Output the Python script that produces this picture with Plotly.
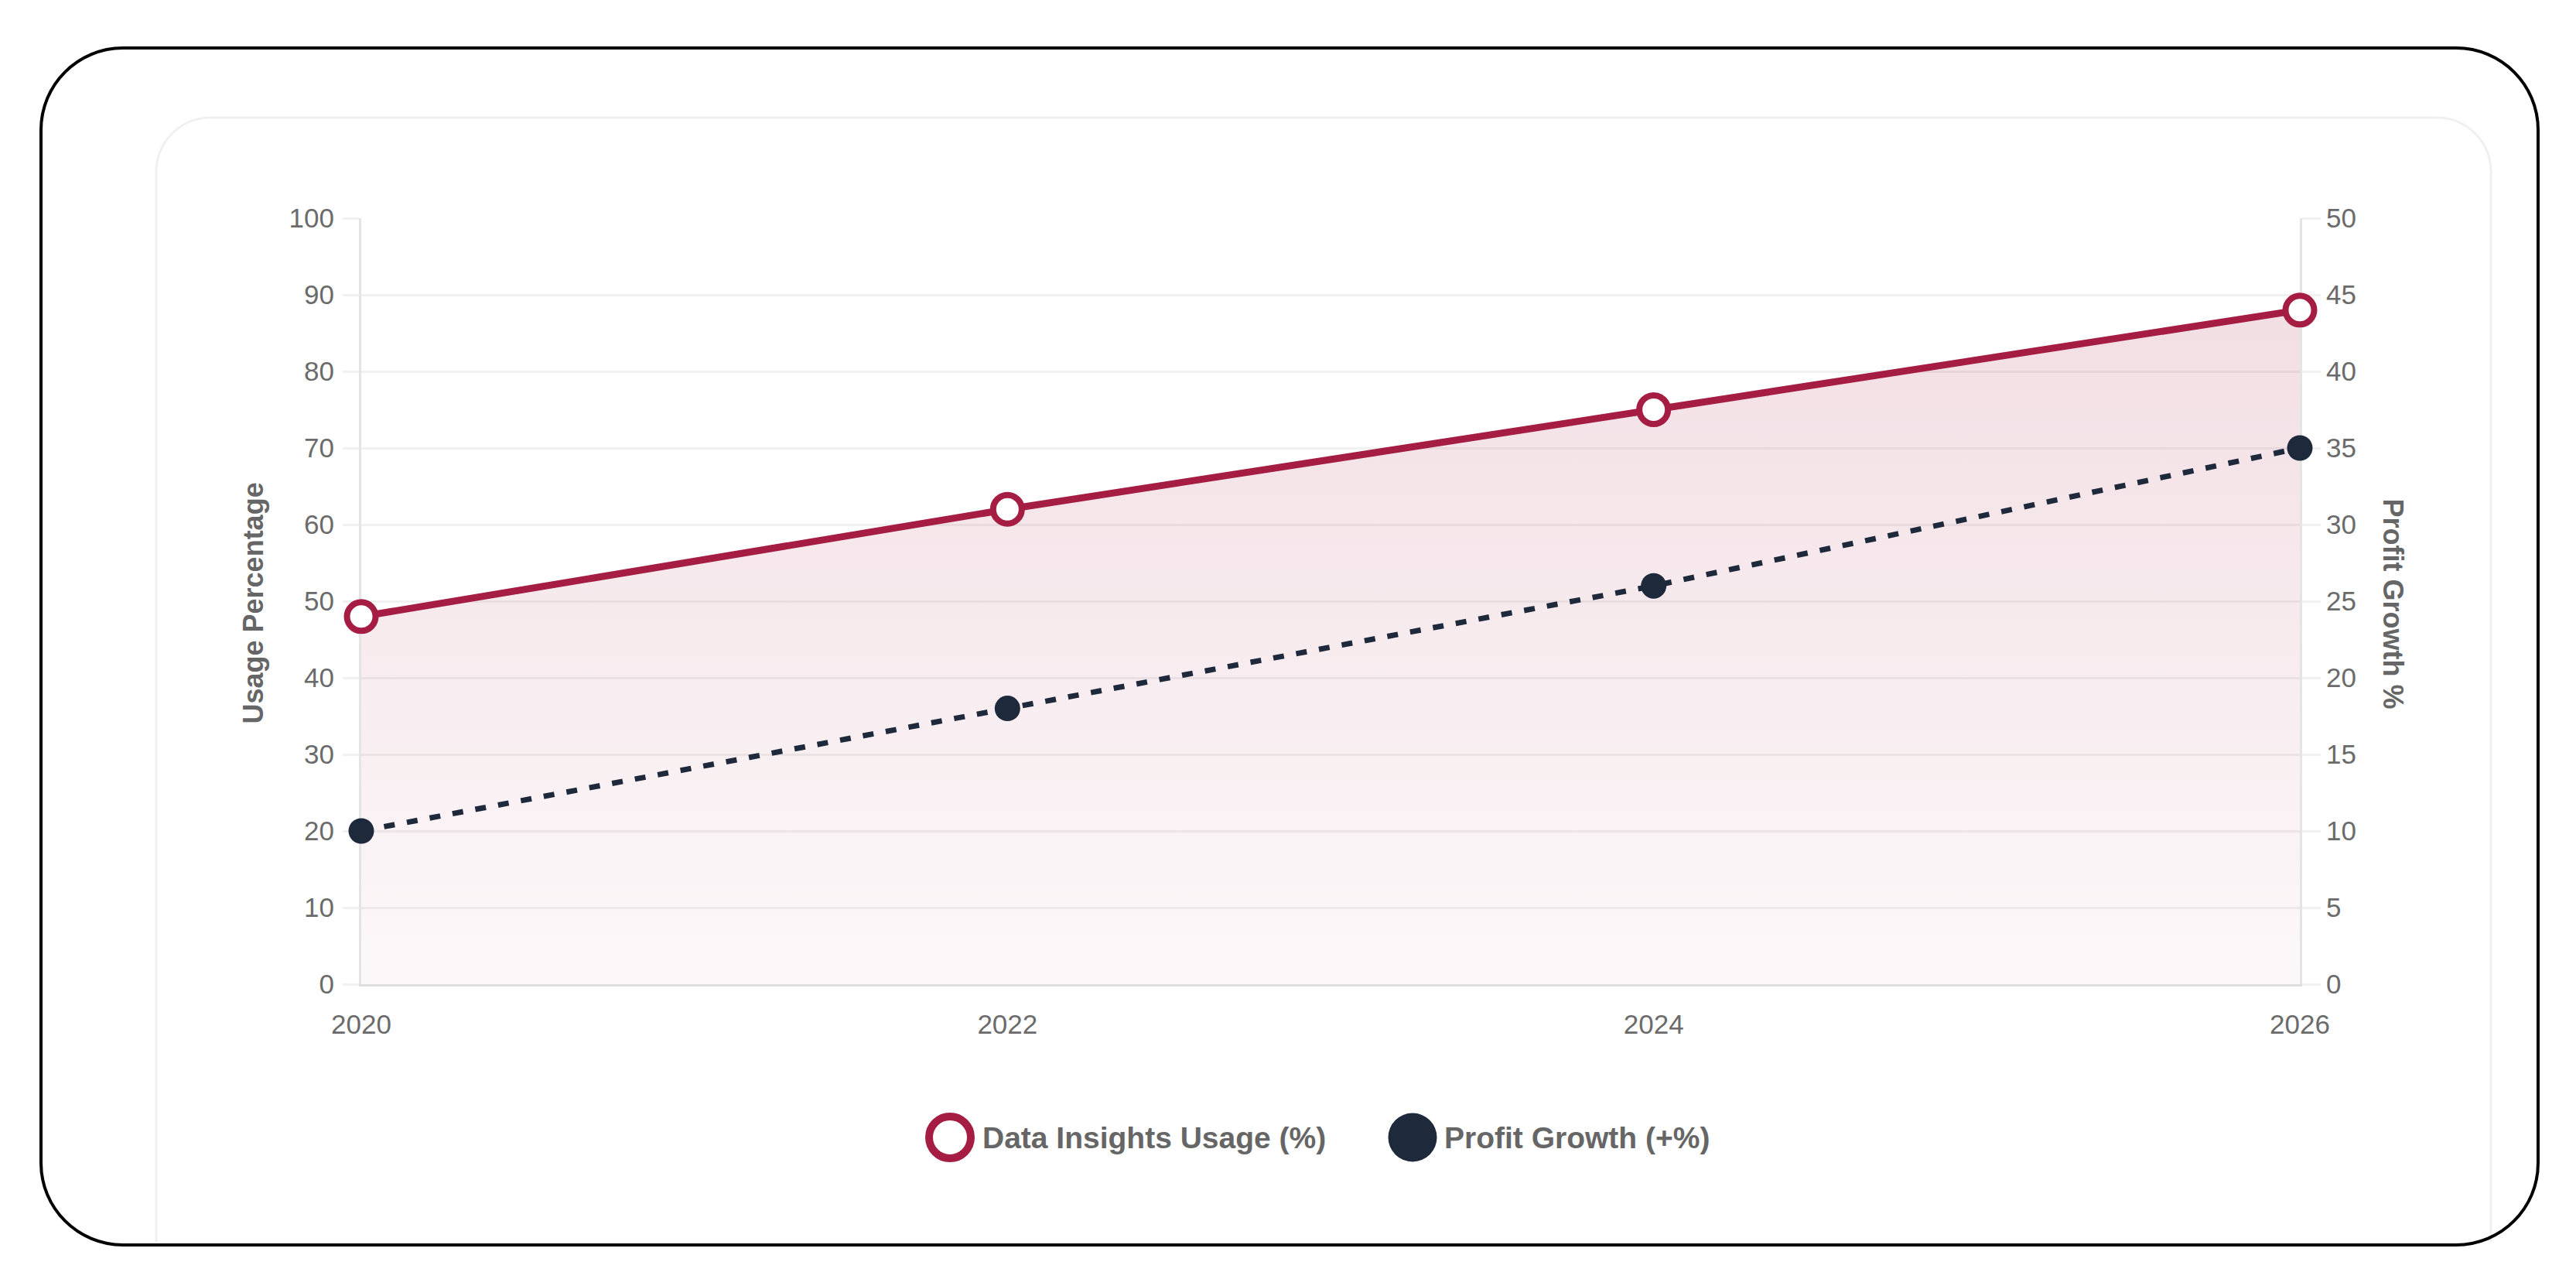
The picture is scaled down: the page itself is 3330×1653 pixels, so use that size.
import plotly.graph_objects as go

# chart data
years = [2020, 2022, 2024, 2026]
year_labels = ["2020", "2022", "2024", "2026"]
usage = [48, 62, 75, 88]
profit = [10, 18, 26, 35]
usage_name = "Data Insights Usage (%)"
profit_name = "Profit Growth (+%)"

W, H = 3330, 1653
RED = "#A51D43"
DARK = "#1E293B"
GREY = "#6b6b6b"
FONT = "Liberation Sans, Arial, sans-serif"


def px(x):
    return x / W


def py(y):
    return 1 - y / H


def rounded_path(x0, y0, x1, y1, r, close=True):
    # rounded rectangle in pixel coords -> svg path in paper coords
    k = 0.5523 * r
    top = [
        f"L {px(x0)},{py(y0 + r)}",
        f"C {px(x0)},{py(y0 + r - k)} {px(x0 + r - k)},{py(y0)} {px(x0 + r)},{py(y0)}",
        f"L {px(x1 - r)},{py(y0)}",
        f"C {px(x1 - r + k)},{py(y0)} {px(x1)},{py(y0 + r - k)} {px(x1)},{py(y0 + r)}",
    ]
    if not close:
        return " ".join([f"M {px(x0)},{py(y1)}"] + top + [f"L {px(x1)},{py(y1)}"])
    bottom = [
        f"L {px(x1)},{py(y1 - r)}",
        f"C {px(x1)},{py(y1 - r + k)} {px(x1 - r + k)},{py(y1)} {px(x1 - r)},{py(y1)}",
        f"L {px(x0 + r)},{py(y1)}",
        f"C {px(x0 + r - k)},{py(y1)} {px(x0)},{py(y1 - r + k)} {px(x0)},{py(y1 - r)}",
        "Z",
    ]
    return " ".join([f"M {px(x0)},{py(y1 - r)}"] + top + bottom)


fig = go.Figure()

fig.add_trace(go.Scatter(
    x=years, y=usage, name=usage_name,
    mode="lines+markers",
    line=dict(color=RED, width=9),
    marker=dict(size=37, color="white", line=dict(color=RED, width=8)),
    fill="tozeroy",
    fillgradient=dict(
        type="vertical", start=0, stop=100,
        colorscale=[[0, "rgba(165,29,67,0.03)"], [1, "rgba(165,29,67,0.16)"]],
    ),
    cliponaxis=False,
))

fig.add_trace(go.Scatter(
    x=years, y=profit, name=profit_name, yaxis="y2",
    mode="lines+markers",
    line=dict(color=DARK, width=7, dash="14px,16px"),
    marker=dict(size=33, color=DARK),
    cliponaxis=False,
))

# card + outer frame
shapes = [
    dict(type="path", xref="paper", yref="paper", layer="below",
         path=rounded_path(202, 152, 3220, 1605, 70, close=False),
         line=dict(color="#f0f0f0", width=3)),
    dict(type="path", xref="paper", yref="paper", layer="above",
         path=rounded_path(53, 62, 3281, 1609, 106),
         line=dict(color="black", width=4)),
]

# legend markers
shapes.append(dict(type="circle", xref="paper", yref="paper",
                   xsizemode="pixel", ysizemode="pixel",
                   xanchor=px(1228), yanchor=py(1470),
                   x0=-27, x1=27, y0=-27, y1=27,
                   fillcolor="white", line=dict(color=RED, width=10)))
shapes.append(dict(type="circle", xref="paper", yref="paper",
                   xsizemode="pixel", ysizemode="pixel",
                   xanchor=px(1826), yanchor=py(1470),
                   x0=-31.5, x1=31.5, y0=-31.5, y1=31.5,
                   fillcolor=DARK, line=dict(color=DARK, width=0)))

annotations = [
    dict(text="<b>Usage Percentage</b>", x=px(304), y=py(780), xref="paper", yref="paper",
         textangle=-90, showarrow=False, font=dict(size=36, color="#666", family=FONT)),
    dict(text="<b>Profit Growth %</b>", x=px(3116), y=py(780), xref="paper", yref="paper",
         textangle=90, showarrow=False, font=dict(size=36, color="#666", family=FONT)),
    dict(text="<b>" + usage_name + "</b>", x=px(1268), y=py(1470), xref="paper", yref="paper",
         xanchor="left", yanchor="middle", showarrow=False,
         font=dict(size=39, color="#666", family=FONT)),
    dict(text="<b>" + profit_name + "</b>", x=px(1865), y=py(1470), xref="paper", yref="paper",
         xanchor="left", yanchor="middle", showarrow=False,
         font=dict(size=39, color="#666", family=FONT)),
]

fig.update_layout(
    width=W, height=H,
    margin=dict(l=0, r=0, t=0, b=0),
    paper_bgcolor="white",
    plot_bgcolor="rgba(0,0,0,0)",
    showlegend=False,
    font=dict(family=FONT, color=GREY, size=35),
    shapes=shapes,
    annotations=annotations,
    xaxis=dict(
        domain=[px(467), px(2973)],
        range=[2020, 2026],
        tickvals=years, ticktext=year_labels,
        showgrid=False, zeroline=False,
        showline=True, linecolor="#dedede", linewidth=3,
        ticks="", ticklabelstandoff=19,
        tickfont=dict(size=35, color=GREY),
        automargin=False, layer="below traces",
    ),
    yaxis=dict(
        domain=[py(1272), py(282)],
        range=[0, 100], dtick=10,
        showgrid=True, gridcolor="#f1f1f1", gridwidth=3,
        zeroline=False,
        showline=True, linecolor="#e4e4e4", linewidth=3,
        ticks="outside", ticklen=21, tickwidth=3, tickcolor="#f1f1f1",
        ticklabelstandoff=4,
        tickfont=dict(size=35, color=GREY),
        automargin=False, layer="below traces",
    ),
    yaxis2=dict(
        overlaying="y", side="right", anchor="x",
        range=[0, 50], dtick=5,
        showgrid=False, zeroline=False,
        showline=True, linecolor="#e4e4e4", linewidth=3,
        ticks="outside", ticklen=24, tickwidth=3, tickcolor="#f1f1f1",
        ticklabelstandoff=0,
        tickfont=dict(size=35, color=GREY),
        automargin=False, layer="below traces",
    ),
)

# drop the default page margin so the figure sits at the window corner
fig.write_html("out.html", config={"displayModeBar": False},
               post_script="document.body.style.margin='0';")
